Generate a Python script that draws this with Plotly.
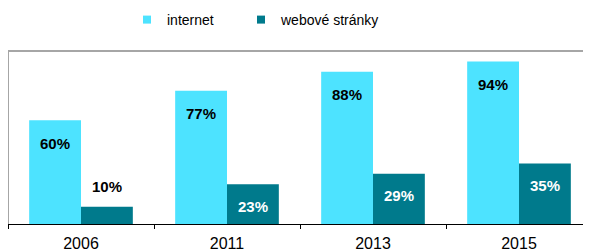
import plotly.graph_objects as go

years = ["2006", "2011", "2013", "2015"]
internet = [60, 77, 88, 94]
webove = [10, 23, 29, 35]
names = ["internet", "webové stránky"]
colors = ["#4DE3FF", "#007A8C"]

fig = go.Figure()
fig.add_trace(go.Bar(x=years, y=internet, name=names[0], showlegend=False,
                     marker=dict(color=colors[0], line=dict(width=0))))
fig.add_trace(go.Bar(x=years, y=webove, name=names[1], showlegend=False,
                     marker=dict(color=colors[1], line=dict(width=0))))
# legend entries with small square swatches
for n, c, lg in zip(names, colors, ["legend", "legend2"]):
    fig.add_trace(go.Scatter(x=[None], y=[None], mode="markers", name=n, legend=lg,
                             marker=dict(symbol="square", size=8, color=c)))

# value labels
for i, y in enumerate(years):
    fig.add_annotation(x=i, y=internet[i], xshift=-26, yshift=-23, text=f"<b>{internet[i]}%</b>",
                       showarrow=False, font=dict(color="black", size=15), yanchor="middle")
    inside = webove[i] >= 20
    fig.add_annotation(x=i, y=webove[i], xshift=26, yshift=(-22 if inside else 20), text=f"<b>{webove[i]}%</b>",
                       showarrow=False, font=dict(color=("white" if inside else "black"), size=15), yanchor="middle")

fig.add_shape(type="line", xref="paper", yref="paper", x0=0, x1=1, y0=1, y1=1,
              line=dict(color="#A6A6A6", width=2))
fig.add_shape(type="line", xref="paper", yref="paper", x0=0, x1=0, y0=0, y1=1,
              line=dict(color="#A6A6A6", width=2))

leg_common = dict(orientation="h", xanchor="left", yanchor="middle", y=1 - 12 / 252,
                  yref="container", font=dict(size=14), bgcolor="rgba(0,0,0,0)")
fig.update_layout(
    width=591, height=252,
    margin=dict(l=0, r=7, t=43, b=36, autoexpand=False),
    paper_bgcolor="white", plot_bgcolor="white",
    barmode="group", bargap=0.29, bargroupgap=0,
    font=dict(family="Liberation Sans, Arial, sans-serif", size=14, color="black"),
    legend=dict(x=119 / 584, **leg_common),
    legend2=dict(x=233 / 584, **leg_common),
    showlegend=True,
)
fig.update_xaxes(type="category", range=[-0.5, 3.5], showline=True, linecolor="black", linewidth=1,
                 ticks="outside", tickson="boundaries", ticklen=4, tickcolor="black", showgrid=False,
                 tickfont=dict(size=16), ticklabelstandoff=5)
fig.update_yaxes(range=[0, 100], visible=False, showgrid=False)

fig.write_html("out.html")
